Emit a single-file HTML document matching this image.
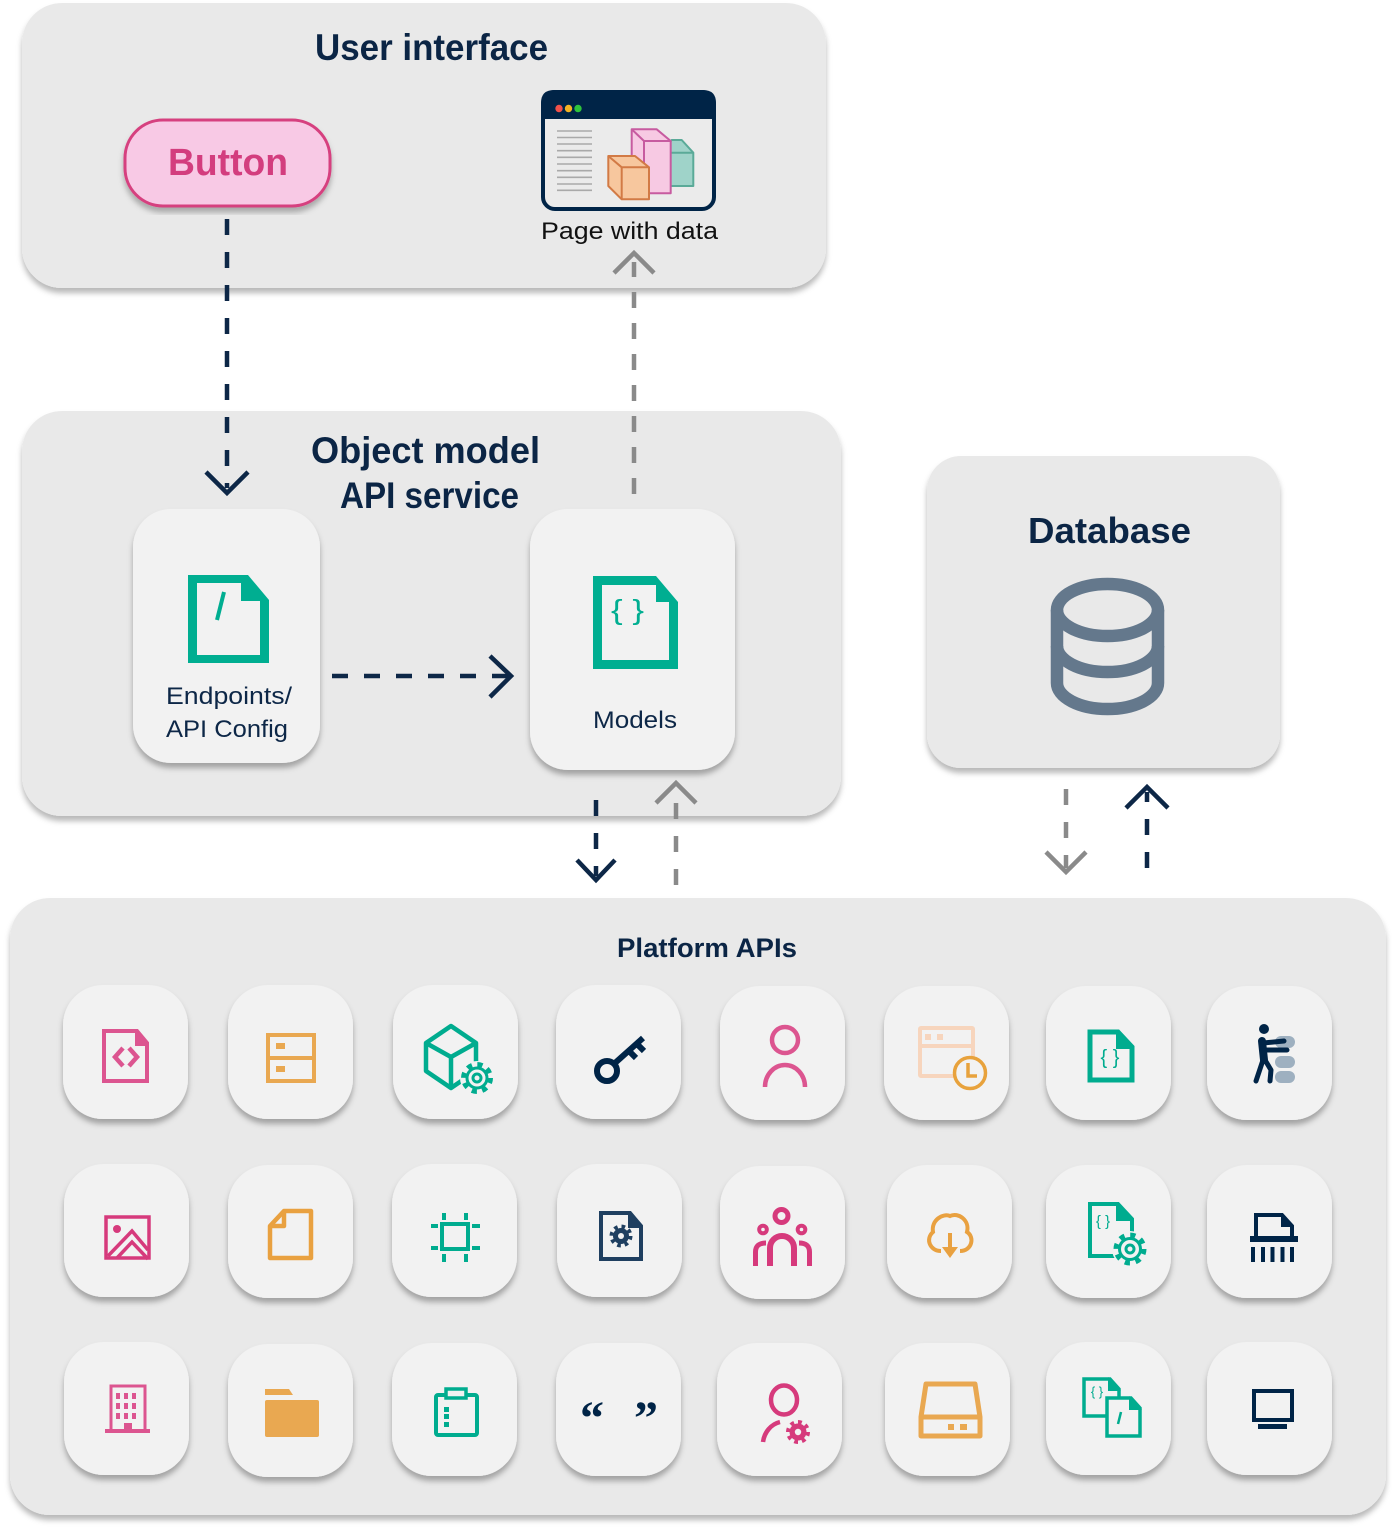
<!DOCTYPE html>
<html><head><meta charset="utf-8"><style>
html,body{margin:0;padding:0;background:#fff;width:1392px;height:1529px;overflow:hidden}
svg{display:block}
text{font-family:"Liberation Sans",sans-serif}
</style></head><body>
<svg width="1392" height="1529" viewBox="0 0 1392 1529" xmlns="http://www.w3.org/2000/svg">
<defs>
<filter id="sh" x="-5%" y="-5%" width="110%" height="115%"><feDropShadow dx="0" dy="5" stdDeviation="3" flood-color="#000" flood-opacity="0.28"/></filter>
<filter id="sc" x="-10%" y="-10%" width="120%" height="125%"><feDropShadow dx="0" dy="5" stdDeviation="3" flood-color="#000" flood-opacity="0.3"/></filter>
</defs>
<rect width="1392" height="1529" fill="#fff"/>

<!-- Panels -->
<rect x="22" y="3" width="804" height="285" rx="40" fill="#e9e9e9" filter="url(#sh)"/>
<rect x="22" y="411" width="819" height="405" rx="40" fill="#e9e9e9" filter="url(#sh)"/>
<rect x="927" y="456" width="353" height="312" rx="34" fill="#e9e9e9" filter="url(#sh)"/>
<rect x="10" y="898" width="1376" height="617" rx="40" fill="#e9e9e9" filter="url(#sh)"/>

<!-- User interface -->
<text x="315" y="60" font-size="37" font-weight="bold" fill="#0b2545" textLength="233" lengthAdjust="spacingAndGlyphs">User interface</text>
<rect x="125" y="120" width="205" height="86" rx="38" fill="#f8c9e5" stroke="#d6417f" stroke-width="3" filter="url(#sh)"/>
<text x="168" y="175" font-size="38" font-weight="bold" fill="#d33d7e" textLength="120" lengthAdjust="spacingAndGlyphs">Button</text>

<!-- Page with data window -->
<rect x="543" y="92" width="171" height="117" rx="12" fill="#ebebeb" stroke="#002447" stroke-width="4"/>
<path d="M541,119 V103 Q541,90 554,90 H703 Q716,90 716,103 V119 Z" fill="#002447"/>
<circle cx="559" cy="108.5" r="3.7" fill="#f0514a"/>
<circle cx="568.5" cy="108.5" r="3.7" fill="#f4b223"/>
<circle cx="578" cy="108.5" r="3.7" fill="#2fc43b"/>
<g stroke="#a9a9a9" stroke-width="1.6">
<line x1="557" y1="131" x2="592" y2="131"/><line x1="557" y1="137.5" x2="592" y2="137.5"/><line x1="557" y1="144" x2="592" y2="144"/><line x1="557" y1="150.7" x2="592" y2="150.7"/><line x1="557" y1="157.3" x2="592" y2="157.3"/><line x1="557" y1="164" x2="592" y2="164"/><line x1="557" y1="170.7" x2="592" y2="170.7"/><line x1="557" y1="177.3" x2="592" y2="177.3"/><line x1="557" y1="184" x2="592" y2="184"/><line x1="557" y1="190.3" x2="592" y2="190.3"/>
</g>
<g stroke-width="2" stroke-linejoin="round">
<path d="M662,152.7 L671.7,140 H681.7 L693.3,152.7 V186 H670.7 Z" fill="#9fd3c9" stroke="#5aaa98"/>
<path d="M670.7,152.7 H693.3" stroke="#5aaa98" fill="none"/>
<path d="M631.7,129.3 H656.7 L670.7,141 V193.3 H644 L631.7,183.3 Z" fill="#f7c9e3" stroke="#c75ba0"/>
<path d="M631.7,129.3 L644,141 H670.7 M644,141 V193.3" stroke="#c75ba0" fill="none"/>
<path d="M608.3,156 H635 L649,167.3 V199.3 H621.7 L608.3,186 Z" fill="#f7c79e" stroke="#d27a45"/>
<path d="M608.3,156 L621.7,167.3 H649 M621.7,167.3 V199.3" stroke="#d27a45" fill="none"/>
</g>
<text x="541" y="239" font-size="24" fill="#111" textLength="177" lengthAdjust="spacingAndGlyphs">Page with data</text>

<!-- Object model panel -->
<text x="311" y="463" font-size="37" font-weight="bold" fill="#0b2545" textLength="229" lengthAdjust="spacingAndGlyphs">Object model</text>
<text x="340" y="508" font-size="37" font-weight="bold" fill="#0b2545" textLength="179" lengthAdjust="spacingAndGlyphs">API service</text>

<rect x="133" y="509" width="187" height="254" rx="38" fill="#f2f2f2" filter="url(#sc)"/>
<rect x="530" y="509" width="205" height="261" rx="38" fill="#f2f2f2" filter="url(#sc)"/>

<path d="M188,575 H248 L269,600 V663 H188 Z" fill="#00ae91"/>
<path d="M197,583 H241 V601 H260 V655 H197 Z" fill="#f2f2f2"/>
<line x1="224" y1="592" x2="217" y2="620" stroke="#00ae91" stroke-width="4"/>
<text x="166" y="704" font-size="24" fill="#0d2747" textLength="126" lengthAdjust="spacingAndGlyphs">Endpoints/</text>
<text x="166" y="737" font-size="24" fill="#0d2747" textLength="122" lengthAdjust="spacingAndGlyphs">API Config</text>

<path d="M593,576 H656 L678,602 V669 H593 Z" fill="#00ae91"/>
<path d="M602,585 H656 V602 H669 V660 H602 Z" fill="#f2f2f2"/>
<text x="611" y="619" font-size="28" fill="#00ae91" textLength="33" lengthAdjust="spacingAndGlyphs">{ }</text>
<text x="593" y="728" font-size="24" fill="#0d2747" textLength="84" lengthAdjust="spacingAndGlyphs">Models</text>

<!-- Database -->
<text x="1028" y="543" font-size="36" font-weight="bold" fill="#0b2545" textLength="163" lengthAdjust="spacingAndGlyphs">Database</text>
<g fill="none" stroke="#64788c" stroke-width="12.5">
<ellipse cx="1107.5" cy="610" rx="50.5" ry="26"/>
<path d="M1057,610 V683 A50.5,26 0 0 0 1158,683 V610"/>
<path d="M1057,646 A50.5,26 0 0 0 1158,646"/>
</g>

<!-- Arrows -->
<g fill="none" stroke-width="4.5">
<path d="M227,219 V488" stroke="#0d2747" stroke-dasharray="16 17"/>
<path d="M206,472 L227,493 L248,472" stroke="#0d2747"/>
<path d="M634,494 V262" stroke="#8a8a8a" stroke-dasharray="16 15"/>
<path d="M614,273 L634,253 L654,273" stroke="#8a8a8a"/>
<path d="M332,676 H508" stroke="#0d2747" stroke-dasharray="16 16"/>
<path d="M490,656 L511,676 L490,697" stroke="#0d2747"/>
<path d="M596,800 V876" stroke="#0d2747" stroke-dasharray="16 17"/>
<path d="M577,860 L596,880 L615,860" stroke="#0d2747"/>
<path d="M676,885 V788" stroke="#8a8a8a" stroke-dasharray="16 17"/>
<path d="M656,803 L676,783 L696,803" stroke="#8a8a8a"/>
<path d="M1066,789 V868" stroke="#8a8a8a" stroke-dasharray="16 17"/>
<path d="M1046,852 L1066,872 L1086,852" stroke="#8a8a8a"/>
<path d="M1147,868 V792" stroke="#0d2747" stroke-dasharray="16 17"/>
<path d="M1126,808 L1147,787 L1168,808" stroke="#0d2747"/>
</g>

<!-- Platform APIs -->
<text x="617" y="957" font-size="27" font-weight="bold" fill="#0b2545" textLength="180" lengthAdjust="spacingAndGlyphs">Platform APIs</text>

<g fill="#f2f2f2" filter="url(#sc)">
<rect x="63" y="985" width="125" height="134" rx="40"/>
<rect x="228" y="985" width="125" height="134" rx="40"/>
<rect x="393" y="985" width="125" height="134" rx="40"/>
<rect x="556" y="985" width="125" height="134" rx="40"/>
<rect x="720" y="986" width="125" height="134" rx="40"/>
<rect x="884" y="986" width="125" height="134" rx="40"/>
<rect x="1046" y="986" width="125" height="134" rx="40"/>
<rect x="1207" y="986" width="125" height="134" rx="40"/>

<rect x="64" y="1164" width="125" height="133" rx="40"/>
<rect x="228" y="1165" width="125" height="133" rx="40"/>
<rect x="392" y="1164" width="125" height="133" rx="40"/>
<rect x="557" y="1164" width="125" height="133" rx="40"/>
<rect x="720" y="1166" width="125" height="133" rx="40"/>
<rect x="887" y="1165" width="125" height="133" rx="40"/>
<rect x="1046" y="1165" width="125" height="133" rx="40"/>
<rect x="1207" y="1165" width="125" height="133" rx="40"/>

<rect x="64" y="1342" width="125" height="133" rx="40"/>
<rect x="228" y="1344" width="125" height="133" rx="40"/>
<rect x="392" y="1343" width="125" height="133" rx="40"/>
<rect x="556" y="1343" width="125" height="133" rx="40"/>
<rect x="717" y="1343" width="125" height="133" rx="40"/>
<rect x="885" y="1343" width="125" height="133" rx="40"/>
<rect x="1046" y="1342" width="125" height="133" rx="40"/>
<rect x="1207" y="1342" width="125" height="133" rx="40"/>
</g>

<!-- Row 1 icons -->
<g fill="none" stroke="#dc5590" stroke-width="4">
<path d="M104,1031 H137 L147,1043 V1081 H104 Z"/>
<path d="M123,1048 L115,1057 L123,1066 M129,1048 L137,1057 L129,1066" stroke-width="4.5"/>
</g>
<path d="M135,1030 L149,1046 H135 Z" fill="#dc5590"/>
<g fill="none" stroke="#e9a851" stroke-width="4">
<rect x="268" y="1035" width="46" height="46"/>
<line x1="268" y1="1058" x2="314" y2="1058"/>
</g>
<rect x="276" y="1043" width="9" height="6" fill="#e9a851"/>
<rect x="276" y="1066" width="9" height="6" fill="#e9a851"/>
<g fill="none" stroke="#00ac8f" stroke-width="4.5" stroke-linejoin="round">
<path d="M451,1026 L476,1043 V1071 L451,1088 L426,1071 V1043 Z"/>
<path d="M426,1043 L451,1057 L476,1043 M451,1057 V1088"/>
</g>
<g transform="translate(477,1078)">
<circle r="17" fill="#f2f2f2"/>
<circle r="13" fill="none" stroke="#00ac8f" stroke-width="6" stroke-dasharray="5 5.2"/>
<circle r="10" fill="#f2f2f2" stroke="#00ac8f" stroke-width="3"/>
<circle r="4" fill="none" stroke="#00ac8f" stroke-width="3"/>
</g>
<g fill="none" stroke="#002447" stroke-width="6" stroke-linecap="butt">
<circle cx="607" cy="1071" r="10"/>
<path d="M615,1063 L643,1038"/>
<path d="M629,1051 L636,1058 M637,1044 L644,1051"/>
</g>
<g fill="none" stroke="#dc5590" stroke-width="4.5">
<ellipse cx="785" cy="1040" rx="13" ry="13"/>
<path d="M765,1087 A20,22 0 0 1 805,1087"/>
</g>
<g fill="none" stroke="#f7d5bd" stroke-width="4">
<rect x="920" y="1028" width="53" height="48" rx="1"/>
<line x1="920" y1="1046" x2="973" y2="1046"/>
</g>
<rect x="925" y="1034" width="6" height="6" fill="#f7d5bd"/>
<rect x="937" y="1034" width="6" height="6" fill="#f7d5bd"/>
<circle cx="970" cy="1073" r="15.5" fill="#f2f2f2" stroke="#e8a23c" stroke-width="3.5"/>
<path d="M968,1063 V1076 H977" fill="none" stroke="#e8a23c" stroke-width="3.5"/>
<path d="M1090,1032 H1118 L1132,1047 V1080 H1090 Z" fill="none" stroke="#00ac8f" stroke-width="5"/>
<path d="M1116,1030 L1134,1049 H1116 Z" fill="#00ac8f"/>
<text x="1110" y="1064" font-size="20" fill="#00ac8f" text-anchor="middle">{ }</text>
<g fill="#9eb0c0">
<rect x="1275" y="1036" width="20" height="12" rx="6"/>
<rect x="1275" y="1056" width="20" height="12" rx="6"/>
<rect x="1275" y="1071" width="20" height="12" rx="6"/>
</g>
<g fill="none" stroke="#002447" stroke-linecap="round" stroke-linejoin="round">
<path d="M1262,1041 L1264,1060" stroke-width="8"/>
<path d="M1263,1043 L1284,1041 M1265,1050 L1287,1050" stroke-width="5"/>
<path d="M1263,1060 L1256,1081 M1265,1060 L1271,1070 L1270,1081" stroke-width="5"/>
</g>
<circle cx="1264" cy="1029" r="5" fill="#002447"/>

<!-- Row 2 icons -->
<g fill="none" stroke="#d63a7c" stroke-width="3.5">
<rect x="106" y="1217" width="43" height="41"/>
<path d="M108,1256 L132,1231 L148,1250 M117,1258 L132,1242 L148,1259"/>
</g>
<circle cx="117" cy="1229" r="4" fill="#d63a7c"/>
<g fill="none" stroke="#e9a140" stroke-width="4.5" stroke-linejoin="round">
<path d="M284,1211 H311 V1258 H270 V1226 Z"/>
<path d="M284,1211 V1226 H270"/>
</g>
<g fill="none" stroke="#00ac8f" stroke-width="4">
<rect x="442" y="1224" width="26" height="25"/>
<path d="M444,1213 V1220 M466,1213 V1220 M444,1254 V1262 M466,1254 V1262 M431,1226 H438 M472,1226 H480 M431,1248 H438 M472,1248 H480"/>
</g>
<path d="M601,1213 H630 L641,1226 V1259 H601 Z" fill="none" stroke="#1f3f60" stroke-width="4"/>
<path d="M628,1211 L643,1228 H628 Z" fill="#1f3f60"/>
<g transform="translate(621,1236)">
<circle r="9.5" fill="none" stroke="#1f3f60" stroke-width="4" stroke-dasharray="3.6 3.9"/>
<circle r="8" fill="#1f3f60"/>
<circle r="3" fill="#f2f2f2"/>
</g>
<!-- group -->
<g fill="none" stroke="#d63a7c">
<circle cx="781.5" cy="1216" r="6.5" stroke-width="5"/>
<circle cx="763" cy="1229.5" r="3.8" stroke-width="4"/>
<circle cx="801.5" cy="1229.5" r="3.8" stroke-width="4"/>
<path d="M770,1266 V1248 A12,12 0 0 1 794,1248 V1266" stroke-width="6"/>
<path d="M755.5,1266 V1252 Q755.5,1243 766,1243 M809.5,1266 V1252 Q809.5,1243 799,1243" stroke-width="5"/>
</g>
<path d="M941,1251 C930,1251 925,1239 933,1232 C931,1220 943,1213 950,1216 C958,1212 970,1220 967,1232 C975,1237 972,1251 960,1251" fill="none" stroke="#e9a140" stroke-width="4"/>
<line x1="950" y1="1233" x2="950" y2="1250" stroke="#e9a140" stroke-width="4"/>
<path d="M942,1247 H958 L950,1258 Z" fill="#e9a140"/>
<path d="M1090,1204 H1118 L1132,1219 V1256 H1090 Z" fill="none" stroke="#00ac8f" stroke-width="4"/>
<path d="M1116,1202 L1134,1221 H1116 Z" fill="#00ac8f"/>
<text x="1103" y="1226" font-size="15" fill="#00ac8f" text-anchor="middle">{ }</text>
<g transform="translate(1130,1249)">
<circle r="18" fill="#f2f2f2"/>
<circle r="13.5" fill="none" stroke="#00ac8f" stroke-width="6" stroke-dasharray="5 5.6"/>
<circle r="10.5" fill="#f2f2f2" stroke="#00ac8f" stroke-width="3"/>
<circle r="4" fill="none" stroke="#00ac8f" stroke-width="3"/>
</g>
<path d="M1256,1238 V1215 H1282 L1292,1226 V1238" fill="none" stroke="#002447" stroke-width="4"/>
<path d="M1281,1213 L1294,1227 H1281 Z" fill="#002447"/>
<rect x="1250" y="1236" width="48" height="6" fill="#002447"/>
<g fill="#002447">
<rect x="1251" y="1247" width="4" height="15"/><rect x="1261" y="1247" width="4" height="15"/><rect x="1270.5" y="1247" width="4" height="15"/><rect x="1280.5" y="1247" width="4" height="15"/><rect x="1290" y="1247" width="4" height="15"/>
</g>

<!-- Row 3 icons -->
<rect x="111" y="1386" width="34" height="45" fill="none" stroke="#dc5590" stroke-width="3"/>
<rect x="105" y="1429" width="45" height="4" fill="#dc5590"/>
<g fill="#dc5590">
<rect x="116" y="1393" width="4" height="6"/><rect x="124" y="1393" width="4" height="6"/><rect x="132" y="1393" width="4" height="6"/>
<rect x="116" y="1403" width="4" height="6"/><rect x="124" y="1403" width="4" height="6"/><rect x="132" y="1403" width="4" height="6"/>
<rect x="116" y="1413" width="4" height="6"/><rect x="124" y="1413" width="4" height="6"/><rect x="132" y="1413" width="4" height="6"/>
<rect x="124" y="1423" width="8" height="8"/>
</g>
<path d="M265,1389 H289 L293,1395 H265 Z" fill="#e9a851"/>
<rect x="265" y="1400" width="54" height="37" rx="2" fill="#e9a851"/>
<rect x="436" y="1395" width="41" height="40" rx="2" fill="none" stroke="#00ac8f" stroke-width="4"/>
<rect x="446" y="1389" width="20" height="9" fill="#f2f2f2" stroke="#00ac8f" stroke-width="3.5"/>
<g fill="#00ac8f">
<rect x="444" y="1407" width="5" height="5"/><rect x="444" y="1414" width="5" height="5"/><rect x="444" y="1422" width="5" height="5"/>
</g>
<text x="580" y="1434" font-size="48" font-weight="bold" fill="#002447" style="font-family:'Liberation Serif',serif">“</text>
<text x="634" y="1434" font-size="48" font-weight="bold" fill="#002447" style="font-family:'Liberation Serif',serif">”</text>
<g fill="none" stroke="#d63a7c" stroke-width="4.5">
<ellipse cx="784" cy="1400" rx="13" ry="14.5"/>
<path d="M763,1442 A22,24 0 0 1 780,1422"/>
</g>
<g transform="translate(798,1432)">
<circle r="10" fill="none" stroke="#d63a7c" stroke-width="4" stroke-dasharray="3.8 4"/>
<circle r="8.5" fill="#d63a7c"/>
<circle r="3.2" fill="#f2f2f2"/>
</g>
<g fill="none" stroke="#e9a851" stroke-width="5" stroke-linejoin="round">
<path d="M926,1384 H975 L980,1417 V1436 H921 V1417 Z"/>
<line x1="921" y1="1417" x2="980" y2="1417"/>
</g>
<rect x="948" y="1424" width="6" height="6" fill="#e9a851"/>
<rect x="960" y="1424" width="7" height="6" fill="#e9a851"/>
<path d="M1084,1379 H1110 L1119,1389 V1416 H1084 Z" fill="none" stroke="#00ac8f" stroke-width="3.5"/>
<path d="M1108,1377 L1121,1391 H1108 Z" fill="#00ac8f"/>
<text x="1097" y="1396" font-size="13" fill="#00ac8f" text-anchor="middle">{ }</text>
<path d="M1107,1398 H1131 L1140,1408 V1436 H1107 Z" fill="#f2f2f2" stroke="#00ac8f" stroke-width="3.5"/>
<path d="M1129,1396 L1142,1410 H1129 Z" fill="#00ac8f"/>
<line x1="1121" y1="1412" x2="1118" y2="1424" stroke="#00ac8f" stroke-width="2.5"/>
<rect x="1254" y="1391" width="38" height="29" fill="none" stroke="#002447" stroke-width="4"/>
<rect x="1258" y="1424" width="29" height="5" fill="#002447"/>
</svg>
</body></html>
